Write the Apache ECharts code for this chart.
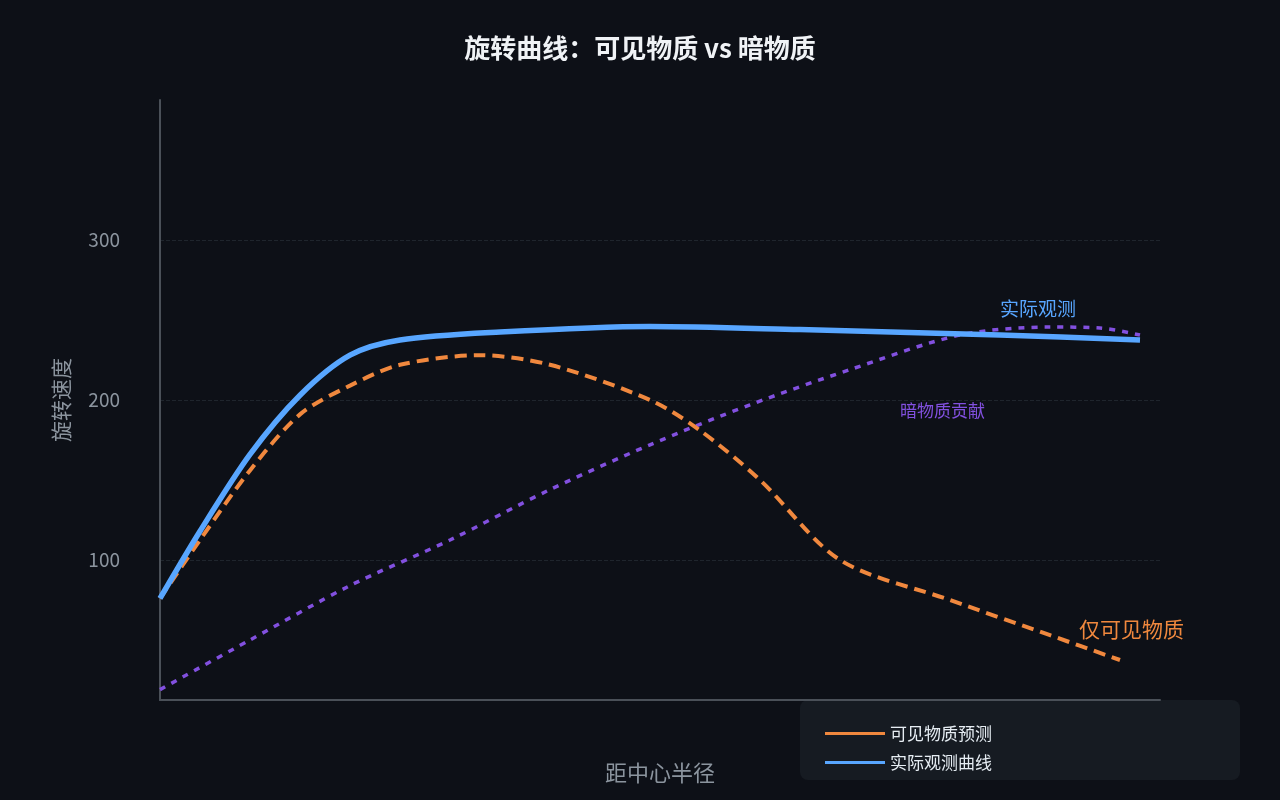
<!DOCTYPE html>
<html><head><meta charset="utf-8">
<script src="https://cdn.jsdelivr.net/npm/echarts@6/dist/echarts.min.js"></script>
<style>html,body{margin:0;background:#0d1017}#c{width:1280px;height:800px}</style>
</head><body><div id="c"></div>
<script>
var observed = [[0,76],[4,118],[9,166],[14,203],[19,228],[24,237.5],[34,242.5],[49,246],[64,244],[84,240.6],[98,237.5]];
var visible = [[0,76],[4,112.5],[9,156],[14,191],[19,209],[24,222],[32,228],[39,222],[49,200],[54,181],[60,150],[68,100],[79,75],[89,53],[96,37.5]];
var darkMatter = [[0,19],[9,50],[19,84],[29,112.5],[39,144],[49,172],[59,197],[69,219],[80,240.6],[89,245.6],[94,245],[98,240.6]];
var yTicks = [100,200,300];
var font = '"Noto Sans CJK SC", sans-serif';
var lineIcon = 'path://M0,0 L60,0 L60,3 L0,3 Z';
var chart = echarts.init(document.getElementById('c'));
chart.setOption({
  backgroundColor:'#0d1017',
  textStyle:{fontFamily:font},
  title:{text:'旋转曲线：可见物质 vs 暗物质',left:'center',top:30,textStyle:{color:'#f0f3f6',fontSize:26,fontWeight:'bold',fontFamily:font}},
  grid:{left:160,right:120,top:100,bottom:100},
  legend:{data:[{name:'可见物质预测',icon:lineIcon},{name:'实际观测曲线',icon:lineIcon}],orient:'vertical',left:820,top:720,itemGap:12,itemWidth:60,itemHeight:4,
    textStyle:{color:'#e6edf3',fontSize:17}},
  xAxis:{type:'value',min:0,max:100,name:'距中心半径',nameLocation:'middle',nameGap:62,
    nameTextStyle:{color:'#8b949e',fontSize:22},axisLabel:{show:false},axisTick:{show:false},splitLine:{show:false},
    axisLine:{lineStyle:{color:'#4a5058',width:2}}},
  yAxis:{type:'value',min:12.5,max:387.5,name:'旋转速度',nameLocation:'middle',nameGap:88,
    nameTextStyle:{color:'#8b949e',fontSize:21},
    axisLabel:{color:'#8b949e',fontSize:19,margin:40,customValues:yTicks},
    axisTick:{show:false,customValues:yTicks},
    axisLine:{show:true,lineStyle:{color:'#4a5058',width:2}},
    splitLine:{show:true,lineStyle:{color:'#1f252d',type:'dashed'}}},
  series:[
    {name:'暗物质贡献',type:'line',smooth:0.3,symbol:'none',data:darkMatter,lineStyle:{color:'#8250df',width:3.5,type:[6,7]},z:1},
    {name:'可见物质预测',type:'line',smooth:0.3,symbol:'none',data:visible,itemStyle:{color:'#f0883e'},lineStyle:{color:'#f0883e',width:4,type:[12,7]},z:2},
    {name:'实际观测曲线',type:'line',smooth:0.3,symbol:'none',data:observed,itemStyle:{color:'#58a6ff'},lineStyle:{color:'#58a6ff',width:5.5},z:3}
  ],
  graphic:[
    {type:'rect',left:800,top:700,z:-1,shape:{width:440,height:80,r:8},style:{fill:'#161b22'}},
    {type:'text',left:1000,top:299,style:{text:'实际观测',fill:'#58a6ff',font:'19px '+font}},
    {type:'text',left:900,top:402,style:{text:'暗物质贡献',fill:'#8250df',font:'17px '+font}},
    {type:'text',left:1079,top:619,style:{text:'仅可见物质',fill:'#f0883e',font:'21px '+font}}
  ]
});
</script></body></html>
